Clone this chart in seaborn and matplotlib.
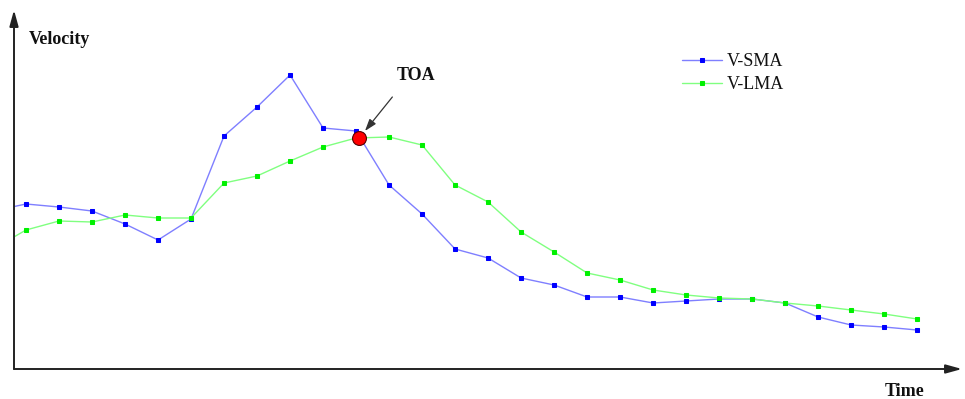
import numpy as np
import pandas as pd
import matplotlib
matplotlib.use("Agg")
import matplotlib.pyplot as plt
import seaborn as sns

# Sample index along the time axis
time_idx = list(range(29))

# Short-window moving average of velocity
v_sma = [158, 165, 162, 158, 145, 129, 150, 233, 262, 294, 241, 238, 184, 155,
         120, 111, 91, 84, 72, 72, 66, 68, 70, 70, 66, 52, 44, 42, 39]

# Long-window moving average of velocity
v_lma = [120, 139, 148, 147, 154, 151, 151, 186, 193, 208, 222, 231, 232, 224,
         184, 167, 137, 117, 96, 89, 79, 74, 71, 70, 66, 63, 59, 55, 50]

# Time of arrival: crossing of the two averages
toa_idx = 11
toa_val = 231

df = pd.DataFrame({"t": time_idx, "V-SMA": v_sma, "V-LMA": v_lma})

sns.set_theme(style="white")
plt.rcParams["font.family"] = ["Liberation Serif", "DejaVu Serif"]

W, H = 965, 399
fig = plt.figure(figsize=(W / 100, H / 100), dpi=100)
ax = fig.add_axes([14 / W, 30 / H, (962 - 14) / W, 359 / H])

sns.lineplot(data=df, x="t", y="V-SMA", ax=ax, color="#7f7fff", lw=1.0,
             marker="s", markersize=3.5, markerfacecolor="#0000ff",
             markeredgecolor="#0000ff", label="V-SMA")
sns.lineplot(data=df, x="t", y="V-LMA", ax=ax, color="#80ff80", lw=1.0,
             marker="s", markersize=3.5, markerfacecolor="#00f000",
             markeredgecolor="#00f000", label="V-LMA")

ax.set_xlim(0.636, 29.36)
ax.set_ylim(0, 359)
ax.set_xticks([])
ax.set_yticks([])
ax.set_xlabel("")
ax.set_ylabel("")
for s in ax.spines.values():
    s.set_visible(False)

# Axis arrows
arrow_kw = dict(arrowstyle="-|>,head_length=0.8,head_width=0.22",
                color="#222222", lw=1.4, shrinkA=0, shrinkB=0)
ax.annotate("", xy=(0, 1.0), xytext=(0, 0), xycoords="axes fraction",
            textcoords="axes fraction", arrowprops=arrow_kw, annotation_clip=False)
ax.annotate("", xy=(1.0, 0), xytext=(0, 0), xycoords="axes fraction",
            textcoords="axes fraction", arrowprops=arrow_kw, annotation_clip=False)

fig.text(29 / W, 1 - 39 / H, "Velocity", fontsize=13, fontweight="bold",
         ha="left", va="center", color="#111111")
fig.text(885 / W, 1 - 391 / H, "Time", fontsize=13, fontweight="bold",
         ha="left", va="center", color="#111111")

# TOA marker and callout
ax.plot([toa_idx + 0.1], [toa_val], marker="o", markersize=10,
        markerfacecolor="#ff0000", markeredgecolor="#550000", mew=0.8,
        zorder=5, clip_on=False)
ax.annotate("", xy=(toa_idx + 0.27, toa_val + 7), xytext=(toa_idx + 1.1, toa_val + 41),
            arrowprops=dict(arrowstyle="-|>,head_length=0.6,head_width=0.2",
                            color="#333333", lw=0.9, shrinkA=0, shrinkB=0))
fig.text(416 / W, 1 - 75 / H, "TOA", fontsize=13, fontweight="bold",
         ha="center", va="center", color="#111111")

leg = ax.legend(loc="upper left", bbox_to_anchor=(682 / W, 1 - 53 / H),
                bbox_transform=fig.transFigure, frameon=False, fontsize=13,
                handlelength=2.2, handletextpad=0.28, labelspacing=0.35,
                borderpad=0, borderaxespad=0)
for t in leg.get_texts():
    t.set_color("#111111")

fig.savefig("out.png", dpi=100)
